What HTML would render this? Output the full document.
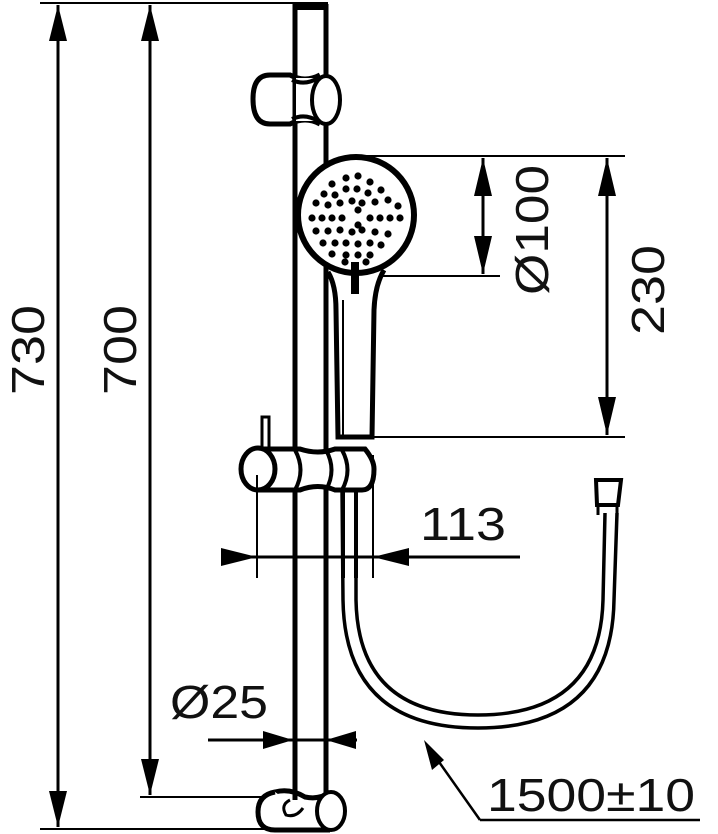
<!DOCTYPE html>
<html><head><style>html,body{margin:0;padding:0;background:#fff}svg{display:block}text{font-family:"Liberation Sans","DejaVu Sans",sans-serif;fill:#111;font-size:46px}</style></head><body>
<svg width="718" height="834" viewBox="0 0 718 834" xmlns="http://www.w3.org/2000/svg">
<g stroke="#000" fill="none">
<!-- 730 -->
<line x1="40" y1="3" x2="295" y2="3" stroke-width="2"/>
<line x1="40" y1="829" x2="275" y2="829" stroke-width="2"/>
<line x1="58" y1="5" x2="58" y2="827" stroke-width="3"/>
<path d="M58,5 l-9,36 h18z M58,827 l-9,-36 h18z" fill="#000" stroke="none"/>
<!-- 700 -->
<line x1="140" y1="797" x2="262" y2="797" stroke-width="2"/>
<line x1="150" y1="5" x2="150" y2="795" stroke-width="3"/>
<path d="M150,5 l-9,36 h18z M150,795 l-9,-36 h18z" fill="#000" stroke="none"/>
<!-- rail -->
<line x1="295" y1="4" x2="295" y2="800" stroke-width="5"/>
<line x1="326" y1="4" x2="326" y2="800" stroke-width="5"/>
<rect x="293" y="2" width="35" height="8" fill="#000" stroke="none"/>
<!-- top bracket -->
<path d="M270,75 L290,75 Q305,83 320,75 M270,124 L290,124 Q305,116 320,124" stroke-width="5"/>
<path d="M270,75 Q253,75 253,99 Q253,124 270,124" stroke-width="5"/>
<rect x="296" y="78" width="27" height="43" fill="#fff" stroke="none"/>
<path d="M292,80 Q305,86 318,78 M292,119 Q305,113 318,121" stroke-width="4"/>
<ellipse cx="326" cy="100" rx="14" ry="24" stroke-width="4" fill="#fff"/>
<!-- head dims -->
<line x1="356" y1="156" x2="625" y2="156" stroke-width="2"/>
<line x1="360" y1="276" x2="500" y2="276" stroke-width="2"/>
<line x1="372" y1="437" x2="625" y2="437" stroke-width="2"/>
<line x1="483" y1="158" x2="483" y2="274" stroke-width="3"/>
<path d="M483,158 l-9,38 h18z M483,274 l-9,-38 h18z" fill="#000" stroke="none"/>
<line x1="607" y1="158" x2="607" y2="435" stroke-width="3"/>
<path d="M607,158 l-9,38 h18z M607,435 l-9,-38 h18z" fill="#000" stroke="none"/>
<!-- handle -->
<path d="M328,272 Q336,285 336,310 L338,437 L372,437 L374,310 Q375,285 384,270" stroke-width="5" fill="#fff"/>
<line x1="343" y1="300" x2="343" y2="435" stroke-width="2"/>
<!-- head -->
<circle cx="356" cy="215" r="58" stroke-width="6" fill="#fff"/>
<rect x="351" y="262" width="8" height="32" fill="#000" stroke="none"/>
</g>
<g fill="#000">
<circle cx="346" cy="178" r="3.6"/><circle cx="358" cy="176" r="3.6"/><circle cx="332" cy="184" r="3.6"/><circle cx="346" cy="189" r="3.6"/><circle cx="370" cy="182" r="3.6"/><circle cx="324" cy="194" r="3.6"/><circle cx="335" cy="195" r="3.6"/><circle cx="357" cy="189" r="3.6"/><circle cx="368" cy="193" r="3.6"/><circle cx="381" cy="190" r="3.6"/><circle cx="316" cy="203" r="3.6"/><circle cx="328" cy="205" r="3.6"/><circle cx="340" cy="203" r="3.6"/><circle cx="352" cy="201" r="3.6"/><circle cx="362" cy="203" r="3.6"/><circle cx="375" cy="202" r="3.6"/><circle cx="388" cy="200" r="3.6"/><circle cx="312" cy="218" r="3.6"/><circle cx="322" cy="218" r="3.6"/><circle cx="332" cy="218" r="3.6"/><circle cx="342" cy="218" r="3.6"/><circle cx="370" cy="218" r="3.6"/><circle cx="380" cy="218" r="3.6"/><circle cx="390" cy="218" r="3.6"/><circle cx="400" cy="218" r="3.6"/><circle cx="316" cy="231" r="3.6"/><circle cx="328" cy="231" r="3.6"/><circle cx="340" cy="230" r="3.6"/><circle cx="352" cy="232" r="3.6"/><circle cx="362" cy="230" r="3.6"/><circle cx="375" cy="232" r="3.6"/><circle cx="388" cy="234" r="3.6"/><circle cx="398" cy="206" r="3.6"/><circle cx="323" cy="243" r="3.6"/><circle cx="335" cy="243" r="3.6"/><circle cx="346" cy="243" r="3.6"/><circle cx="358" cy="244" r="3.6"/><circle cx="370" cy="243" r="3.6"/><circle cx="381" cy="245" r="3.6"/><circle cx="332" cy="254" r="3.6"/><circle cx="346" cy="255" r="3.6"/><circle cx="358" cy="255" r="3.6"/><circle cx="370" cy="255" r="3.6"/><circle cx="345" cy="262" r="3.6"/><circle cx="366" cy="262" r="3.6"/><circle cx="358" cy="210" r="3.6"/><circle cx="358" cy="225" r="3.6"/>
</g>
<g stroke="#000" fill="none">
<!-- hose -->
<path d="M342,488 L343,600 Q345,728 478,728 Q612,728 614,600 L617,513" stroke-width="3.5"/>
<path d="M356,488 L356,600 Q358,715 478,715 Q600,715 603,600 L605,513" stroke-width="3.5"/>
<path d="M596,480 L621,480 L618,505 L597,505 Z" stroke-width="4" fill="#fff"/>
<path d="M598,505 L598,515 M617,505 L617,515" stroke-width="3"/>
<!-- lower bracket -->
<rect x="262" y="417" width="7" height="32" stroke-width="3" fill="#fff"/>
<path d="M258,449 L300,449 Q318,455 335,449 L365,449 Q374,460 374,469 Q374,490 362,490 L335,490 Q318,483 300,490 L258,490" stroke-width="5" fill="#fff"/>
<ellipse cx="258" cy="469" rx="17" ry="21" stroke-width="5" fill="#fff"/>
<path d="M295,450 Q306,470 295,490 M326,450 Q337,470 326,490 M342,450 Q353,470 342,490" stroke-width="4"/>
<line x1="343" y1="490" x2="343" y2="578" stroke-width="4"/>
<line x1="356" y1="490" x2="356" y2="578" stroke-width="4"/>
<!-- 113 -->
<line x1="257" y1="475" x2="257" y2="578" stroke-width="2"/>
<line x1="373" y1="455" x2="373" y2="578" stroke-width="2"/>
<line x1="222" y1="557" x2="520" y2="557" stroke-width="3"/>
<path d="M257,557 l-36,-9 v18z M373,557 l36,-9 v18z" fill="#000" stroke="none"/>
<!-- Ø25 -->
<line x1="208" y1="740" x2="357" y2="740" stroke-width="3"/>
<path d="M293,740 l-30,-9 v18z M326,740 l30,-9 v18z" fill="#000" stroke="none"/>
<!-- bottom bracket -->
<path d="M275,792 Q290,788 305,797 Q320,800 330,792" stroke-width="5"/>
<path d="M275,792 Q258,795 258,812 Q258,830 275,830 L330,830" stroke-width="5" fill="#fff"/>
<ellipse cx="331" cy="811" rx="14" ry="19" stroke-width="4" fill="#fff"/>
<path d="M290,800 Q280,805 286,815 Q296,818 303,808" stroke-width="3" fill="#fff"/>
<line x1="295" y1="740" x2="295" y2="800" stroke-width="5"/>
<line x1="326" y1="740" x2="326" y2="794" stroke-width="5"/>
<!-- 1500 leader -->
<path d="M480,820 L700,820 M480,820 L432,752" stroke-width="2.5"/>
<path d="M424,740 l8,30 l12,-10z" fill="#000" stroke="none"/>
</g>
<text transform="translate(44,350) rotate(-90)" text-anchor="middle" textLength="90" lengthAdjust="spacingAndGlyphs">730</text>
<text transform="translate(136,350) rotate(-90)" text-anchor="middle" textLength="90" lengthAdjust="spacingAndGlyphs">700</text>
<text transform="translate(548,230) rotate(-90)" text-anchor="middle" textLength="130" lengthAdjust="spacingAndGlyphs">Ø100</text>
<text transform="translate(664,290) rotate(-90)" text-anchor="middle" textLength="90" lengthAdjust="spacingAndGlyphs">230</text>
<text x="420" y="540" textLength="86" lengthAdjust="spacingAndGlyphs">113</text>
<text x="170" y="718" textLength="98" lengthAdjust="spacingAndGlyphs">Ø25</text>
<text x="487" y="811" textLength="208" lengthAdjust="spacingAndGlyphs">1500±10</text>
</svg>
</body></html>
